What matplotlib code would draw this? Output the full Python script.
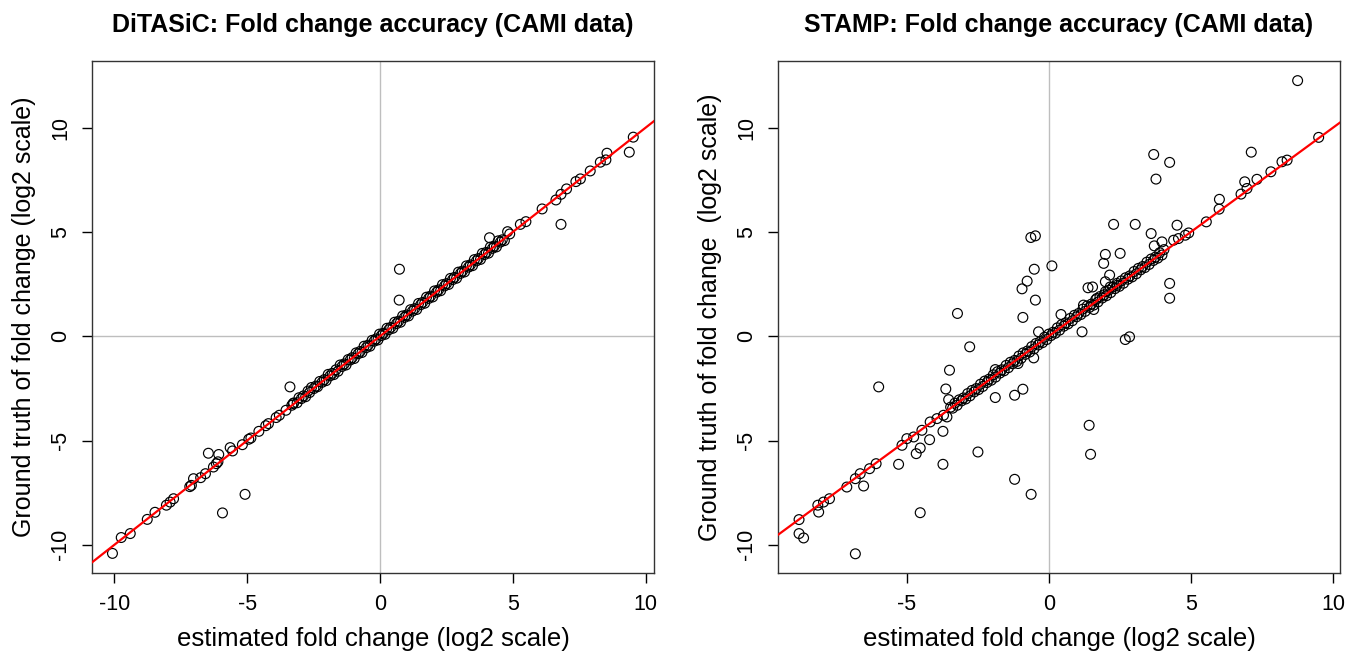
import matplotlib.pyplot as plt

plt.rcParams['font.family'] = ['Liberation Sans', 'DejaVu Sans']

# (estimated, ground truth) log2 fold changes
ditasic_points = [
    (-10.07, -10.41), (-9.74, -9.65), (-9.40, -9.46), (-8.76, -8.78), (-8.47, -8.44),
    (-8.04, -8.10), (-7.90, -7.95), (-7.77, -7.79), (-7.16, -7.21), (-7.10, -7.15),
    (-7.02, -6.83), (-6.75, -6.78), (-6.57, -6.59), (-6.27, -6.27), (-6.16, -6.11),
    (-6.10, -6.02), (-6.46, -5.61), (-6.07, -5.67), (-5.64, -5.34), (-5.55, -5.50),
    (-5.93, -8.47), (-5.08, -7.58), (-5.18, -5.20), (-4.94, -4.94), (-4.86, -4.88),
    (-4.56, -4.56), (-4.30, -4.29), (-4.20, -4.19), (-3.91, -3.90), (-3.79, -3.79),
    (-3.54, -3.55), (-3.32, -3.31), (-3.27, -3.23), (-3.39, -2.43), (0.73, 3.21),
    (0.72, 1.73), (4.12, 4.72), (4.80, 5.01), (4.88, 4.90), (5.28, 5.36),
    (5.49, 5.49), (6.10, 6.10), (6.62, 6.53), (6.81, 6.80), (7.02, 7.06),
    (7.37, 7.41), (7.54, 7.54), (7.91, 7.92), (8.29, 8.34), (8.50, 8.45),
    (8.54, 8.77), (6.81, 5.36), (9.38, 8.82), (9.53, 9.54),
    # dense band along the diagonal
    (-3.25, -3.20), (-3.12, -3.19), (-3.05, -2.95), (-2.96, -2.99), (-2.88, -2.86),
    (-2.80, -2.90), (-2.71, -2.63), (-2.65, -2.70), (-2.58, -2.46), (-2.49, -2.51),
    (-2.41, -2.39), (-2.35, -2.42), (-2.27, -2.17), (-2.18, -2.21), (-2.10, -2.08),
    (-2.03, -2.13), (-1.95, -1.83), (-1.88, -1.90), (-1.80, -1.78), (-1.74, -1.84),
    (-1.66, -1.61), (-1.58, -1.68), (-1.50, -1.38), (-1.43, -1.45), (-1.35, -1.33),
    (-1.28, -1.38), (-1.20, -1.12), (-1.12, -1.14), (-1.05, -1.03), (-0.97, -1.07),
    (-0.90, -0.80), (-0.82, -0.84), (-0.75, -0.73), (-0.68, -0.78), (-0.60, -0.48),
    (-0.52, -0.55), (-0.45, -0.43), (-0.38, -0.48), (-0.30, -0.20), (-0.22, -0.24),
    (-0.15, -0.13), (-0.08, -0.18), (-0.02, 0.10), (0.05, 0.03), (0.12, 0.14),
    (0.19, 0.09), (0.26, 0.38), (0.33, 0.31), (0.40, 0.42), (0.48, 0.38),
    (0.55, 0.67), (0.62, 0.60), (0.70, 0.72), (0.77, 0.67), (0.85, 0.97),
    (0.92, 0.90), (1.00, 1.02), (1.07, 0.97), (1.15, 1.27), (1.22, 1.20),
    (1.30, 1.32), (1.38, 1.28), (1.45, 1.57), (1.53, 1.51), (1.60, 1.62),
    (1.68, 1.58), (1.75, 1.87), (1.83, 1.81), (1.90, 1.92), (1.98, 1.88),
    (2.05, 2.17), (2.13, 2.11), (2.20, 2.22), (2.28, 2.18), (2.35, 2.47),
    (2.43, 2.41), (2.50, 2.52), (2.58, 2.48), (2.65, 2.77), (2.73, 2.71),
    (2.80, 2.82), (2.88, 2.78), (2.95, 3.07), (3.03, 3.01), (3.10, 3.12),
    (3.18, 3.08), (3.25, 3.37), (3.33, 3.31), (3.40, 3.42), (3.48, 3.38),
    (3.55, 3.67), (3.63, 3.61), (3.70, 3.72), (3.78, 3.68), (3.85, 3.97),
    (3.93, 3.91), (4.00, 4.02), (4.08, 3.98), (4.15, 4.27), (4.23, 4.21),
    (4.30, 4.32), (4.38, 4.28), (4.45, 4.57), (4.53, 4.51), (4.60, 4.62),
    (4.68, 4.58),
]

stamp_points = [
    (8.75, 12.25), (9.49, 9.53), (7.12, 8.82), (3.69, 8.71), (4.25, 8.33),
    (3.77, 7.53), (8.38, 8.44), (8.20, 8.36), (7.81, 7.88), (7.32, 7.52),
    (6.89, 7.40), (6.97, 7.08), (6.76, 6.81), (6.00, 6.56), (5.99, 6.09),
    (5.54, 5.48), (4.92, 4.95), (4.80, 4.84), (4.56, 4.68), (4.39, 4.60),
    (4.51, 5.32), (2.28, 5.36), (3.04, 5.36), (3.60, 4.92), (3.71, 4.33),
    (3.98, 4.52), (1.99, 3.92), (2.51, 3.97), (1.93, 3.49), (2.14, 2.93),
    (1.99, 2.61), (1.38, 2.32), (1.54, 2.36), (4.25, 2.53), (4.25, 1.82),
    (2.69, -0.16), (2.84, -0.03), (1.17, 0.21), (0.43, 1.04), (1.58, 1.28),
    (1.22, 1.49), (1.69, 1.81), (1.99, 2.13), (2.16, 2.36), (2.40, 2.53),
    (0.11, 3.37), (-0.63, 4.73), (-0.47, 4.81), (-0.51, 3.21), (-0.76, 2.64),
    (-0.94, 2.27), (-0.47, 1.73), (-0.91, 0.90), (-0.36, 0.21), (-3.21, 1.09),
    (-2.78, -0.51), (-0.53, -1.04), (-1.08, -1.31), (-1.88, -1.60), (-3.49, -1.63),
    (-5.98, -2.43), (-3.62, -2.53), (-3.52, -3.04), (-1.88, -2.94), (-1.20, -2.83),
    (-0.91, -2.54), (-3.72, -4.56), (-4.19, -4.96), (-4.52, -5.36), (-4.66, -5.63),
    (-2.49, -5.55), (-5.28, -6.14), (-3.72, -6.14), (-6.51, -7.18), (-1.20, -6.86),
    (-0.62, -7.58), (-4.52, -8.46), (-6.80, -10.43), (1.42, -4.27), (1.47, -5.66),
    (-8.78, -8.79), (-8.78, -9.46), (-8.62, -9.67), (-8.09, -8.43), (-8.12, -8.10),
    (-7.92, -7.95), (-7.71, -7.79), (-7.10, -7.23), (-6.80, -6.83), (-6.63, -6.59),
    (-6.30, -6.35), (-6.07, -6.11), (-5.16, -5.23), (-4.99, -4.91), (-4.75, -4.83),
    (-4.46, -4.51), (-4.17, -4.11), (-3.93, -3.95), (-3.70, -3.79), (-3.58, -3.87),
    # dense band along the diagonal
    (-3.45, -3.40), (-3.38, -3.45), (-3.30, -3.21), (-3.22, -3.31), (-3.15, -3.05),
    (-3.07, -3.10), (-3.00, -2.96), (-2.92, -3.01), (-2.85, -2.75), (-2.77, -2.86),
    (-2.70, -2.60), (-2.62, -2.67), (-2.55, -2.51), (-2.47, -2.56), (-2.40, -2.30),
    (-2.32, -2.41), (-2.25, -2.15), (-2.17, -2.22), (-2.10, -2.06), (-2.02, -2.11),
    (-1.95, -1.85), (-1.87, -1.96), (-1.80, -1.70), (-1.72, -1.77), (-1.65, -1.61),
    (-1.57, -1.66), (-1.50, -1.40), (-1.42, -1.51), (-1.35, -1.25), (-1.27, -1.32),
    (-1.20, -1.16), (-1.12, -1.21), (-1.05, -0.95), (-0.97, -1.06), (-0.90, -0.80),
    (-0.82, -0.87), (-0.75, -0.71), (-0.67, -0.76), (-0.60, -0.50), (-0.52, -0.61),
    (-0.45, -0.35), (-0.37, -0.42), (-0.30, -0.26), (-0.22, -0.31), (-0.15, -0.05),
    (-0.07, -0.16), (0.00, 0.10), (0.08, 0.03), (0.15, 0.19), (0.23, 0.14),
    (0.30, 0.40), (0.38, 0.29), (0.45, 0.55), (0.53, 0.48), (0.60, 0.64),
    (0.68, 0.59), (0.75, 0.85), (0.83, 0.74), (0.90, 1.00), (0.98, 0.93),
    (1.05, 1.09), (1.13, 1.04), (1.20, 1.30), (1.28, 1.19), (1.35, 1.45),
    (1.43, 1.38), (1.50, 1.54), (1.58, 1.49), (1.65, 1.75), (1.73, 1.64),
    (1.80, 1.90), (1.88, 1.83), (1.95, 1.99), (2.03, 1.94), (2.10, 2.20),
    (2.18, 2.09), (2.25, 2.35), (2.33, 2.28), (2.40, 2.44), (2.48, 2.39),
    (2.55, 2.65), (2.63, 2.54), (2.70, 2.80), (2.78, 2.73), (2.85, 2.89),
    (2.93, 2.84), (3.00, 3.10), (3.08, 2.99), (3.15, 3.25), (3.23, 3.18),
    (3.30, 3.34), (3.38, 3.29), (3.45, 3.55), (3.53, 3.44), (3.60, 3.70),
    (3.68, 3.63), (3.75, 3.79), (3.83, 3.74), (3.90, 4.00), (3.98, 3.89),
    (4.05, 4.15),
]

titles = ["DiTASiC: Fold change accuracy (CAMI data)",
          "STAMP: Fold change accuracy (CAMI data)"]
ylabels = ["Ground truth of fold change (log2 scale)",
           "Ground truth of fold change  (log2 scale)"]
xlabel = "estimated fold change (log2 scale)"
ticks = [-10, -5, 0, 5, 10]
tick_labels = ["-10", "-5", "0", "5", "10"]
xlims = [(-10.84, 10.31), (-9.52, 10.24)]
ylim = (-11.35, 13.19)

W, H = 1356, 658
fig = plt.figure(figsize=(W / 100, H / 100), dpi=100)
boxes = [(92, 61, 654, 573), (778, 61, 1340, 573)]

for i, pts in enumerate([ditasic_points, stamp_points]):
    l, t, r, b = boxes[i]
    ax = fig.add_axes([l / W, 1 - b / H, (r - l) / W, (b - t) / H])
    x = [p[0] for p in pts]
    y = [p[1] for p in pts]
    ax.axhline(0, color='#bebebe', lw=1, zorder=1)
    ax.axvline(0, color='#bebebe', lw=1, zorder=1)
    ax.scatter(x, y, s=50, facecolors='none', edgecolors='black', linewidths=0.85, zorder=2)
    ax.axline((0, 0), slope=1, color='red', lw=1.6, zorder=3)
    ax.set_xticks(ticks)
    ax.set_xticklabels(tick_labels)
    ax.set_yticks(ticks)
    ax.set_yticklabels(tick_labels, rotation=90, va='center')
    # limits after the ticks, set_xticks widens the view otherwise
    ax.set_xlim(*xlims[i])
    ax.set_ylim(*ylim)
    ax.tick_params(direction='out', length=7, width=1, labelsize=15.5, pad=8)
    for s in ax.spines.values():
        s.set_linewidth(1)
        s.set_color('#333333')
    ax.set_title(titles[i], fontsize=18, fontweight='bold', pad=21)
    ax.set_xlabel(xlabel, fontsize=18.5, labelpad=9)
    ax.set_ylabel(ylabels[i], fontsize=18, labelpad=10)

fig.savefig("out.png", dpi=100)
